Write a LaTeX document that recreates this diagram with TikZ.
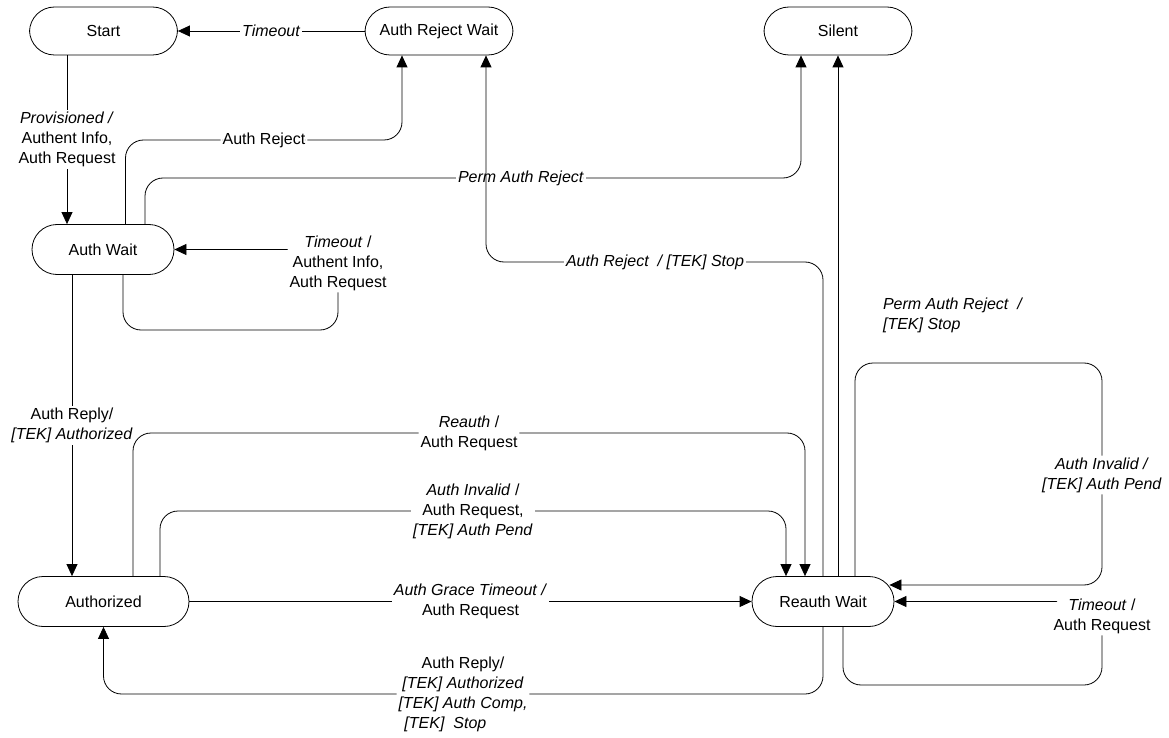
\documentclass[tikz,border=0pt]{standalone}
\usepackage{fontspec}
\setmainfont{Liberation Sans}
\usetikzlibrary{arrows.meta}

\tikzset{
  state/.style={draw, rounded corners=12.5pt, minimum height=25pt, minimum width=74pt, inner sep=2pt},
  lbl/.style={fill=white, inner sep=1pt, align=center},
  wire/.style={->, rounded corners=9pt},
}

\begin{document}
\begin{tikzpicture}[x=0.5pt, y=-0.5pt, thin, font=\fontsize{8pt}{10pt}\selectfont,
    >={Triangle[length=6pt,width=5.5pt]}]
  \useasboundingbox (0,0) rectangle (1169,738);

  \node[state, minimum height=24pt] (start) at (103.5,31) {Start};
  \node[state, minimum height=24pt] (arw) at (439,31) {Auth Reject Wait};
  \node[state, minimum height=24pt] (silent) at (838,31) {Silent};
  \node[state, minimum width=71pt] (aw) at (103,249.5) {Auth Wait};
  \node[state, minimum width=85.5pt] (az) at (103.5,601.5) {Authorized};
  \node[state, minimum width=71pt] (rw) at (823,601.5) {Reauth Wait};

  \draw[->] (arw) -- node[lbl] {\textit{Timeout}} (start);
  \draw[->] ([xshift=-18.25pt]start.south) -- node[lbl] {\textit{Provisioned /}\\Authent Info,\\Auth Request} ([xshift=-18.25pt]start.south |- aw.north);

  \draw[wire] ([xshift=11.25pt]aw.north) |- (264,140) node[lbl] {Auth Reject} -| ([xshift=-18.5pt]arw.south);
  \draw[wire] ([xshift=21pt]aw.north) |- (521,178) node[lbl] {\textit{Perm Auth Reject}} -| ([xshift=-18.5pt]silent.south);
  \draw[wire] ([xshift=10pt]aw.south) |- (338,330) -- (338,263) node[lbl] {\textit{Timeout} /\\Authent Info,\\Auth Request} |- (aw.east);
  \draw[->] ([xshift=-15.5pt]aw.south) -- node[lbl] {Auth Reply/\\\textit{[TEK] Authorized}} ([xshift=-15.5pt]aw.south |- az.north);

  \draw[wire] ([xshift=14.75pt]az.north) |- (469,433) node[lbl] {\textit{Reauth} /\\Auth Request} -| ([xshift=-9pt]rw.north);
  \draw[wire] ([xshift=28.25pt]az.north) |- (473,511) node[lbl] {\textit{Auth Invalid} /\\Auth Request,\\\textit{[TEK] Auth Pend}} -| ([xshift=-18.5pt]rw.north);
  \draw[->] (az) -- node[lbl] {\textit{Auth Grace Timeout /}\\Auth Request} (rw);

  \draw[wire] (rw.north) |- (655,262) node[lbl] {\textit{Auth Reject~~/ [TEK] Stop}} -| ([xshift=23.5pt]arw.south);
  \draw[->] ([xshift=7.5pt]rw.north) -- node[pos=0.5, anchor=west, xshift=19pt, align=left] {\textit{Perm Auth Reject~~/}\\\textit{[TEK] Stop}} ([xshift=7.5pt]rw.north |- silent.south);
  \draw[wire] ([xshift=16pt]rw.north) |- (1102,363) -- (1102,475) node[lbl] {\textit{Auth Invalid /}\\\textit{[TEK] Auth Pend}} |- ([xshift=-2.5pt,yshift=8.25pt]rw.east);
  \draw[wire] ([xshift=10pt]rw.south) |- (1102,685) -- (1102,616) node[lbl] {\textit{Timeout} /\\Auth Request} |- (rw.east);
  \draw[wire] (rw.south) |- (463,694) node[lbl] {Auth Reply/\\\textit{[TEK] Authorized}\\\textit{[TEK] Auth Comp,}\\\textit{[TEK]~~Stop}\hspace*{2.2em}} -| (az.south);
\end{tikzpicture}
\end{document}
